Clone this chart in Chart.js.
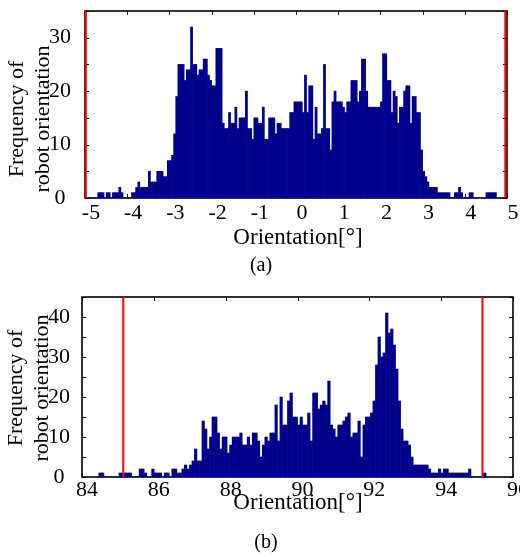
<!DOCTYPE html>
<html>
<head>
<meta charset="utf-8">
<script src="https://cdn.jsdelivr.net/npm/chart.js@4.4.1/dist/chart.umd.min.js"></script>
<style>
  html, body { margin: 0; padding: 0; background: #fff; }
  #wrap { position: relative; width: 520px; height: 557px; }
  canvas { position: absolute; left: 0; }
</style>
</head>
<body>
<div id="wrap">
  <canvas id="histA" width="520" height="280" style="top:0"></canvas>
  <canvas id="histB" width="520" height="277" style="top:280px"></canvas>
</div>
<script>
// (a) orientation histogram, bins of 0.05 deg from -5.05
const binStartA = -5.05;
const binWidthA = 0.05;
const countsA = [
  2, 0, 0, 0, 0, 0, 0, 1, 1, 1,
  0, 1, 1, 0, 1, 1, 1, 2, 1, 0,
  0, 0, 0, 1, 1, 2, 3, 2, 2, 2,
  2, 5, 3, 3, 3, 5, 5, 5, 4, 4,
  7, 7, 8, 12, 19, 25, 25, 25, 22, 24,
  24, 32, 25, 25, 23, 24, 24, 26, 26, 23,
  22, 21, 21, 28, 28, 28, 14, 13, 13, 16,
  14, 14, 17, 13, 15, 15, 15, 20, 13, 13,
  11, 15, 15, 14, 14, 17, 11, 11, 15, 15,
  15, 12, 14, 14, 13, 13, 13, 13, 16, 16,
  18, 18, 18, 18, 16, 23, 16, 21, 21, 11,
  17, 12, 12, 13, 25, 13, 13, 9, 18, 20,
  18, 18, 18, 17, 16, 18, 18, 22, 22, 22,
  18, 20, 26, 26, 20, 17, 17, 17, 17, 17,
  17, 18, 27, 27, 22, 22, 16, 20, 19, 14,
  17, 17, 20, 21, 21, 14, 19, 19, 16, 16,
  9, 5, 4, 3, 2, 2, 2, 2, 1, 1,
  1, 1, 1, 1, 0, 0, 1, 1, 2, 1,
  0, 0, 0, 1, 1, 0, 0, 0, 0, 0,
  0, 1, 1, 1, 1, 1
];
const redLinesA = [-4.98, 4.96];

// (b) orientation histogram, bins of 0.07 deg from 84.40
const binStartB = 84.40;
const binWidthB = 0.07;
const countsB = [
  0, 1, 1, 0, 0, 0, 0, 0, 0, 1,
  1, 1, 1, 1, 0, 0, 0, 2, 2, 1,
  0, 0, 2, 1, 1, 1, 0, 1, 1, 0,
  2, 2, 1, 1, 2, 3, 2, 3, 4, 7,
  4, 4, 14, 12, 7, 10, 15, 15, 11, 7,
  10, 10, 6, 8, 10, 10, 10, 11, 8, 8,
  10, 8, 11, 11, 9, 5, 8, 10, 9, 11,
  11, 18, 9, 20, 13, 13, 19, 21, 15, 15,
  13, 15, 13, 13, 16, 9, 21, 21, 17, 18,
  19, 18, 24, 13, 12, 10, 13, 13, 14, 15,
  16, 10, 11, 11, 14, 5, 13, 15, 15, 16,
  19, 28, 35, 30, 31, 41, 36, 37, 33, 27,
  19, 12, 9, 9, 8, 5, 3, 3, 3, 3,
  3, 3, 2, 1, 1, 1, 2, 1, 2, 2,
  1, 1, 1, 1, 1, 1, 1, 1, 2, 0,
  0, 0, 0, 0, 1
];
const redLinesB = [85.15, 95.15];

const yTitle = ["Frequency of", "robot orientation"];
const xTitle = "Orientation[°]";
const serif = '"Liberation Serif", "Times New Roman", serif';

Chart.defaults.font.family = serif;
Chart.defaults.color = "#000";

// box around the axes with inward ticks on all four sides (MATLAB style)
const boxTicks = {
  id: "boxTicks",
  beforeDatasetsDraw(chart) {
    const { ctx, chartArea: a, scales } = chart;
    const len = 4;
    ctx.save();
    ctx.strokeStyle = "#000";
    ctx.lineWidth = 1;
    ctx.beginPath();
    scales.x.ticks.forEach((t) => {
      const px = Math.round(scales.x.getPixelForValue(t.value)) + 0.5;
      ctx.moveTo(px, a.bottom); ctx.lineTo(px, a.bottom - len);
      ctx.moveTo(px, a.top); ctx.lineTo(px, a.top + len);
    });
    scales.y.ticks.forEach((t) => {
      const py = Math.round(scales.y.getPixelForValue(t.value)) + 0.5;
      ctx.moveTo(a.left, py); ctx.lineTo(a.left + len, py);
      ctx.moveTo(a.right, py); ctx.lineTo(a.right - len, py);
    });
    ctx.stroke();
    ctx.lineWidth = 1.6;
    ctx.strokeRect(a.left, a.top, a.right - a.left, a.bottom - a.top);
    ctx.restore();
  },
  afterDraw(chart, args, o) {
    const { ctx } = chart;
    ctx.save();
    ctx.fillStyle = "#000";
    ctx.textAlign = "center";
    ctx.textBaseline = "alphabetic";
    ctx.font = "23px " + serif;
    ctx.fillText(xTitle, o.xTitleX, o.xTitleY);
    ctx.font = "20px " + serif;
    ctx.fillText(o.panel, o.panelX, o.panelY);
    ctx.translate(o.yTitleX, o.yTitleY);
    ctx.rotate(-Math.PI / 2);
    ctx.font = "22px " + serif;
    ctx.textBaseline = "middle";
    yTitle.forEach((line, i) => ctx.fillText(line, 0, i * 26));
    ctx.restore();
  },
};

function histogram(canvasId, cfg) {
  const bars = cfg.counts.map((c, i) => ({
    x: cfg.binStart + cfg.binWidth * (i + 0.5),
    y: c,
  }));
  const limits = cfg.redLines.map((v) => ({
    type: "line",
    data: [{ x: v, y: 0 }, { x: v, y: cfg.yMax }],
    borderColor: "#ff0000",
    borderWidth: 2,
    pointRadius: 0,
    order: 0,
  }));

  return new Chart(document.getElementById(canvasId), {
    type: "bar",
    data: {
      datasets: [
        ...limits,
        {
          data: bars,
          backgroundColor: "#00008c",
          borderWidth: 0,
          barPercentage: 1,
          categoryPercentage: 1,
          order: 1,
        },
      ],
    },
    options: {
      responsive: false,
      animation: false,
      devicePixelRatio: 1,
      events: [],
      layout: { padding: { top: cfg.padTop, right: cfg.padRight, left: 0, bottom: 0 } },
      plugins: {
        legend: { display: false },
        tooltip: { enabled: false },
        boxTicks: cfg.text,
      },
      scales: {
        x: {
          type: "linear",
          min: cfg.xMin,
          max: cfg.xMax,
          offset: false,
          grid: { display: false },
          border: { display: false },
          ticks: {
            stepSize: cfg.xStep,
            autoSkip: false,
            includeBounds: false,
            maxRotation: 0,
            padding: cfg.xPad,
            labelOffset: cfg.labelOffset,
            font: { size: 22 },
            callback: (v) => String(v),
          },
          afterFit(s) {
            s.height = cfg.xAxisHeight;
            s.paddingLeft = 0;
            s.paddingRight = 0;
          },
        },
        y: {
          min: 0,
          max: cfg.yMax,
          grid: { display: false },
          border: { display: false },
          ticks: {
            stepSize: 5,
            autoSkip: false,
            padding: cfg.yPad,
            crossAlign: "center",
            font: { size: 22 },
            callback: (v) => (v % 10 === 0 ? String(v) : ""),
          },
          afterFit(s) {
            s.width = cfg.yAxisWidth;
            s.paddingTop = 0;
            s.paddingBottom = 0;
          },
        },
      },
    },
    plugins: [boxTicks],
  });
}

histogram("histA", {
  counts: countsA, binStart: binStartA, binWidth: binWidthA, redLines: redLinesA,
  xMin: -5, xMax: 5, xStep: 1, yMax: 35,
  padTop: 11, padRight: 13, yAxisWidth: 85, xAxisHeight: 82,
  xPad: -6, yPad: 6, labelOffset: 6,
  text: { xTitleX: 298, xTitleY: 244, panel: "(a)", panelX: 261, panelY: 271, yTitleX: 17.5, yTitleY: 119 },
});

histogram("histB", {
  counts: countsB, binStart: binStartB, binWidth: binWidthB, redLines: redLinesB,
  xMin: 84, xMax: 96, xStep: 2, yMax: 45,
  padTop: 17, padRight: 7, yAxisWidth: 82, xAxisHeight: 80,
  xPad: -8, yPad: 4, labelOffset: 5,
  text: { xTitleX: 298, xTitleY: 229, panel: "(b)", panelX: 266, panelY: 268, yTitleX: 16.5, yTitleY: 108 },
});
</script>
</body>
</html>
